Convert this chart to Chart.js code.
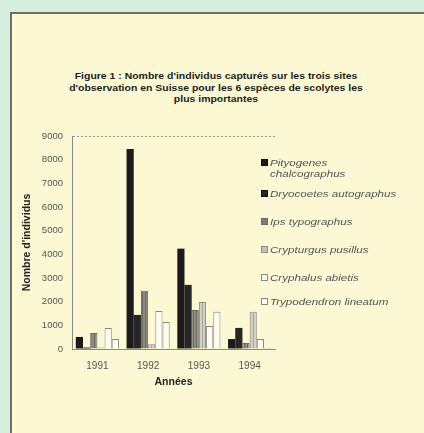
<!DOCTYPE html>
<html lang="fr">
<head>
  <meta charset="UTF-8" />
  <title>Scolytes - Suisse</title>
  <script src="https://cdn.jsdelivr.net/npm/chart.js"></script>
  <style>
    html, body { margin: 0; padding: 0; }
    body { width: 424px; height: 433px; background: #d6eedd; position: relative; overflow: hidden; font-family: "Liberation Sans", Arial, sans-serif; }
    .frame { position: absolute; left: 10px; top: 12px; width: 440px; height: 440px; background: #fcf8d3; border: 2px solid #6f6f6a; }
    .title { position: absolute; left: 16px; width: 400px; top: 70px; text-align: center; font-weight: bold; font-size: 9.6px; line-height: 11.5px; color: #222; transform: scaleX(1.09); transform-origin: 50% 0; }
    #chart { position: absolute; left: 0; top: 0; }
    .legend { position: absolute; left: 261px; top: 0; font-size: 9.5px; font-style: italic; color: #555; }
    .legend div { position: absolute; left: 0; white-space: nowrap; line-height: 11px; }
    .legend span.sw { position: absolute; left: 0; top: 2px; width: 5px; height: 5px; border: 1px solid #666; }
    .legend span.tx { position: absolute; left: 9px; top: 0; transform: scaleX(1.22); transform-origin: 0 0; }
  </style>
</head>
<body>
  <div class="frame"></div>
  <div class="title">Figure 1 : Nombre d'individus capturés sur les trois sites<br>d'observation en Suisse pour les 6 espèces de scolytes les<br>plus importantes</div>
  <canvas id="chart" width="424" height="433"></canvas>
  <div class="legend" id="legend"></div>

  <script>
    // données
    const years = ['1991', '1992', '1993', '1994'];
    const species = ['Pityogenes chalcographus', 'Dryocoetes autographus', 'Ips typographus',
                     'Crypturgus pusillus', 'Cryphalus abietis', 'Trypodendron lineatum'];
    const pityogenes   = [510, 8450, 4240, 420];
    const dryocoetes   = [60, 1440, 2710, 890];
    const ips          = [680, 2460, 1650, 250];
    const crypturgus   = [60, 200, 1990, 1570];
    const cryphalus    = [890, 1610, 970, 420];
    const trypodendron = [420, 1140, 1570, 50];
    const yTicks = [0, 1000, 2000, 3000, 4000, 5000, 6000, 7000, 8000, 9000];

    function stripes(bg, line) {
      const c = document.createElement('canvas');
      c.width = 3; c.height = 3;
      const g = c.getContext('2d');
      g.fillStyle = bg; g.fillRect(0, 0, 3, 3);
      g.fillStyle = line; g.fillRect(1, 0, 1, 3);
      return g.createPattern(c, 'repeat');
    }

    const styles = [
      { bg: '#1b1b1b', border: '#1b1b1b' },
      { bg: '#262626', border: '#262626' },
      { bg: stripes('#8d8b80', '#6c6a62'), border: '#6c6a62', sw: '#7d7b72' },
      { bg: stripes('#d2d0c3', '#a9a79c'), border: '#8e8c84', sw: '#c4c2b6' },
      { bg: '#fffdf2', border: '#8a8a84' },
      { bg: '#fffdf2', border: '#8a8a84' }
    ];
    const series = [pityogenes, dryocoetes, ips, crypturgus, cryphalus, trypodendron];

    const fixedWidth = w => s => { s.width = w; };
    const fixedHeight = h => s => { s.height = h; };

    new Chart(document.getElementById('chart'), {
      type: 'bar',
      data: {
        labels: years,
        datasets: series.map((d, i) => ({
          label: species[i],
          data: d,
          backgroundColor: styles[i].bg,
          borderColor: styles[i].border,
          borderWidth: i >= 2 ? 1 : 0,
          categoryPercentage: 0.85,
          barPercentage: 1.0
        }))
      },
      options: {
        responsive: false,
        animation: false,
        layout: { padding: { left: 0, top: 136, right: 149, bottom: 0 } },
        plugins: { legend: { display: false }, tooltip: { enabled: false } },
        scales: {
          x: {
            grid: { display: false },
            border: { color: '#8a8a84', width: 1 },
            ticks: { color: '#555', font: { family: 'Liberation Sans', size: 10 }, padding: 3 },
            title: { display: true, text: 'Années', color: '#222', font: { family: 'Liberation Sans', size: 10.5, weight: 'bold' }, padding: { bottom: 45 } },
            afterFit: fixedHeight(84)
          },
          y: {
            min: 0, max: 9000,
            afterBuildTicks: s => { s.ticks = yTicks.map(v => ({ value: v })); },
            grid: { drawTicks: false, color: c => c.tick && c.tick.value === 9000 ? '#9a9a94' : 'transparent' },
            border: { color: '#8a8a84', width: 1, dash: [2, 2] },
            ticks: { color: '#555', font: { family: 'Liberation Sans', size: 9.5 }, padding: 9, callback: v => String(v) },
            title: { display: true, text: "Nombre d'individus", color: '#222', font: { family: 'Liberation Sans', size: 10.5, weight: 'bold' }, padding: { top: 21 } },
            afterFit: fixedWidth(72)
          }
        }
      }
    });

    // légende à droite
    const legendTops = [157, 188, 216, 244, 272, 296];
    const legend = document.getElementById('legend');
    species.forEach((name, i) => {
      const row = document.createElement('div');
      row.style.top = legendTops[i] + 'px';
      const sw = document.createElement('span');
      sw.className = 'sw';
      sw.style.background = styles[i].sw || styles[i].bg;
      sw.style.borderColor = i < 2 ? '#111' : styles[i].border;
      const tx = document.createElement('span');
      tx.className = 'tx';
      tx.innerHTML = i === 0 ? 'Pityogenes<br>chalcographus' : name;
      row.appendChild(sw); row.appendChild(tx);
      legend.appendChild(row);
    });
  </script>
</body>
</html>
